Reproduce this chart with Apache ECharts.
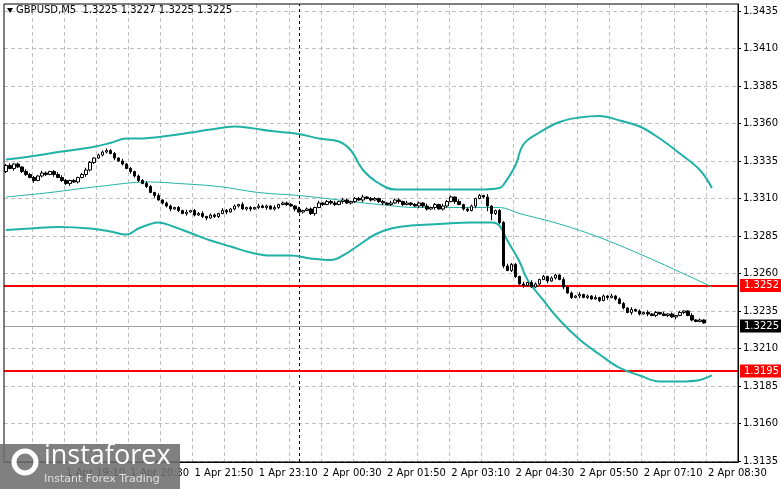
<!DOCTYPE html>
<html><head><meta charset="utf-8">
<script src="https://cdn.jsdelivr.net/npm/echarts@6/dist/echarts.min.js"></script>
<style>html,body{margin:0;padding:0;background:#fff}#c{width:781px;height:489px}</style>
</head><body><div id="c"></div>
<script>
const startMinutes = 17*60+55; // 1 Apr 17:55
const totalSlots = 183;
const closes = [
1.3332,1.3330,1.3333,1.3331,1.3328,1.3326,
1.3324,1.3322,1.3325,1.3327,1.3326,
1.3328,1.3326,1.3324,1.3322,1.3320,
1.3322,1.3321,1.3324,1.3326,1.3329,
1.3334,1.3337,1.3339,1.3341,1.3342,
1.3340,1.3337,1.3335,1.3333,1.3330,
1.3328,1.3325,1.3322,1.3320,1.3318,
1.3314,1.3312,1.3309,1.3307,1.3305,
1.3303,1.3304,1.3302,1.3300,1.3301,
1.3302,1.3299,1.3300,1.3298,1.3297,
1.3299,1.3298,1.3300,1.3302,1.3301,
1.3303,1.3305,1.3306,1.3303,1.3304,
1.3303,1.3304,1.3305,1.3304,1.3305,
1.3303,1.3304,1.3306,1.3307,1.3306,
1.3305,1.3303,1.3301,1.3302,1.3303,
1.3300,1.3304,1.3307,1.3306,1.3308,
1.3307,1.3306,1.3308,1.3309,1.3307,
1.3308,1.3310,1.3309,1.3311,1.3310,
1.3309,1.3310,1.3308,1.3307,1.3306,
1.3307,1.3309,1.3308,1.3306,1.3307,
1.3306,1.3305,1.3307,1.3305,1.3303,
1.3304,1.3306,1.3303,1.3305,1.3308,
1.3311,1.3308,1.3306,1.3303,1.3302,
1.3305,1.3310,1.3312,1.3311,1.3305,
1.3300,1.3302,1.3294,1.3265,1.3262,
1.3266,1.3258,1.3253,1.3252,1.3254,
1.3251,1.3253,1.3256,1.3258,1.3255,
1.3257,1.3259,1.3256,1.3251,1.3247,
1.3244,1.3245,1.3246,1.3244,1.3245,
1.3243,1.3244,1.3242,1.3245,1.3244,
1.3245,1.3243,1.3240,1.3237,1.3234,
1.3236,1.3235,1.3233,1.3234,1.3233,
1.3232,1.3234,1.3233,1.3232,1.3233,
1.3231,1.3232,1.3234,1.3235,1.3232,
1.3229,1.3228,1.3229,1.3227,1.3226,
1.3225];
const firstOpen = 1.3328;
// wick sizes in half-pips (upper / lower), read approximately
const wickUp   = "2312132213212332121232122322131212232131221213122312213212131213221312221312213122313212231221213221312213121322131221214112232213132121221312131213121312213121312131212113121";
const wickDown = "2131221312213122312132212213121322121312231213121231221312212312131221213121231212213122131212312132121322131221312213127922312213211213121312131211213121213121312112131212111";
const upperBand = [[0,1.3336],[6,1.3338],[13,1.3341],[21,1.3344],[26,1.3347],[30,1.3350],[33,1.3350],[41,1.3352],[46,1.3354],[51,1.3356],[57,1.3358],[61,1.3357],[66,1.3355],[73,1.3353],[78,1.3350],[83,1.3348],[86,1.3342],[89,1.3329],[93,1.3320],[97,1.3316],[103,1.3316],[111,1.3316],[118,1.3316],[123,1.3317],[124,1.3319],[127,1.3332],[129,1.3346],[133,1.3354],[138,1.3361],[143,1.3364],[148,1.3365],[153,1.3362],[158,1.3358],[163,1.3350],[168,1.3340],[173,1.3329],[176,1.3317]];
const lowerBand = [[0,1.3289],[6,1.3290],[13,1.3291],[21,1.3290],[26,1.3288],[30,1.3286],[33,1.3290],[36,1.3293],[38,1.3294],[42,1.3291],[46,1.3287],[51,1.3282],[56,1.3278],[61,1.3274],[66,1.3272],[71,1.3272],[76,1.3270],[81,1.3269],[84,1.3272],[88,1.3279],[92,1.3286],[96,1.3290],[101,1.3292],[108,1.3293],[116,1.3294],[121,1.3294],[123,1.3292],[125,1.3282],[128,1.3268],[130,1.3256],[134,1.3242],[138,1.3229],[143,1.3216],[148,1.3206],[153,1.3197],[158,1.3192],[163,1.3188],[168,1.3188],[173,1.3189],[176,1.3192]];
const middleLine = [[0,1.3311],[11,1.3314],[23,1.3318],[36,1.3321],[43,1.3320],[53,1.3318],[63,1.3314],[73,1.3312],[83,1.3309],[93,1.3306],[103,1.3304],[113,1.3304],[121,1.3304],[123,1.3304],[128,1.3300],[138,1.3293],[148,1.3284],[158,1.3273],[168,1.3261],[176,1.3251]];
const levels = [1.3252, 1.3195];
const currentPrice = 1.3225;
const yTicks = [1.3435,1.3410,1.3385,1.3360,1.3335,1.3310,1.3285,1.3260,1.3235,1.3210,1.3185,1.3160,1.3135];

const cats = [];
for (let i=0;i<totalSlots;i++){
  let m = startMinutes + i*5; let day = m>=1440 ? 2 : 1; m%=1440;
  const hh = String(Math.floor(m/60)).padStart(2,'0'), mm = String(m%60).padStart(2,'0');
  cats.push(day+' Apr '+hh+':'+mm);
}
const ohlc = closes.map((c,i)=>{
  const o = i===0 ? firstOpen : closes[i-1];
  const hi = Math.max(o,c) + (+wickUp[i])*0.00005;
  const lo = Math.min(o,c) - (+wickDown[i])*0.00005;
  return [o,c,lo,hi];
});
const chart = echarts.init(document.getElementById('c'));
const FONT = 'DejaVu Sans';
const lineS = (d,w)=>({type:'line',data:d,symbol:'none',smooth:0.4,lineStyle:{color:'#20b2a6',width:w},z:3,silent:true});
const tagLabel = (bg)=>({show:true,position:'end',distance:2,formatter:p=>(+p.value).toFixed(4),color:'#fff',backgroundColor:bg,padding:[2,4,1,4],fontSize:10,fontFamily:FONT});
const mlData = [
  ...yTicks.map(v=>({yAxis:v,lineStyle:{color:'#c0c0c0',type:[4,3],width:1},label:{show:false}})),
  [{coord:[73,1.31343],lineStyle:{color:'#000',type:[3,3],width:1},label:{show:false}},{coord:[73,1.34397]}],
  {yAxis:currentPrice,lineStyle:{color:'#a0a0a0',type:'solid',width:1},label:tagLabel('#000')},
  ...levels.map(v=>({yAxis:v,lineStyle:{color:'#ff0000',type:'solid',width:2},label:tagLabel('#ff0000')}))
];
chart.setOption({
  animation:false,
  grid:{left:4,right:43,top:4,bottom:27},
  xAxis:{type:'category',data:cats,boundaryGap:true,
    axisLine:{lineStyle:{color:'#000'}},axisTick:{show:false},
    axisLabel:{interval:(i)=>i%16===15,color:'#000',fontSize:10,fontFamily:FONT,align:'left',margin:6},
    splitLine:{show:true,interval:(i)=>i%8===7,lineStyle:{color:'#c0c0c0',type:[4,3]}}},
  yAxis:{type:'value',position:'right',min:1.31343,max:1.34397,
    axisLine:{show:true,lineStyle:{color:'#000'}},
    axisTick:{show:true,customValues:yTicks,length:3,lineStyle:{color:'#000'}},
    axisLabel:{customValues:yTicks,formatter:v=>v.toFixed(4),color:'#000',fontSize:10,fontFamily:FONT,margin:5},
    splitLine:{show:false}},
  series:[
    lineS(upperBand,2), lineS(lowerBand,2), lineS(middleLine,1),
    {type:'candlestick',data:ohlc,barWidth:3,z:5,
      itemStyle:{color:'#fff',color0:'#000',borderColor:'#000',borderColor0:'#000',borderWidth:1},
      markLine:{silent:true,symbol:'none',precision:4,data:mlData,z:1}}
  ],
  graphic:[
    {type:'rect',shape:{x:4,y:4,width:734,height:458},style:{fill:'none',stroke:'#000',lineWidth:1},silent:true,z:10},
    {type:'polygon',shape:{points:[[7,8],[13,8],[10,13]]},style:{fill:'#000'},z:10},
    {type:'text',left:16,top:5,style:{text:'GBPUSD,M5  1.3225 1.3227 1.3225 1.3225',fontSize:10,fontFamily:FONT,fill:'#000'},z:10},
    {type:'rect',shape:{x:0,y:444,width:180,height:45},style:{fill:'rgba(110,110,110,0.88)'},z:20},
    {type:'circle',shape:{cx:25,cy:462,r:11},style:{fill:'none',stroke:'#fff',lineWidth:5},z:21},
    {type:'text',left:44,top:443,style:{text:'instaforex',fontSize:27,fontFamily:'Open Sans',fill:'#fff'},z:21},
    {type:'text',left:44,top:474,style:{text:'Instant Forex Trading',fontSize:11,fontFamily:'DejaVu Sans',fill:'#e0e0e0'},z:21}
  ]
});
</script></body></html>
